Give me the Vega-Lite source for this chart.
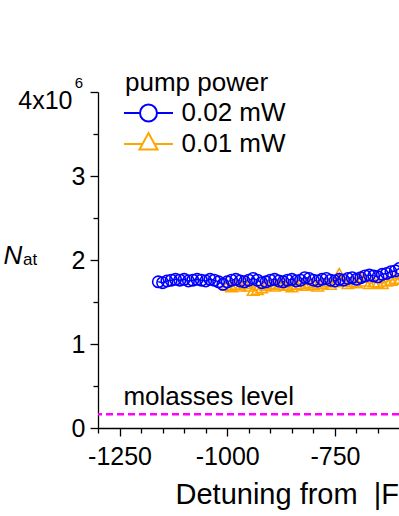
{
  "$schema": "https://vega.github.io/schema/vega-lite/v6.json",
  "autosize": {"type": "none"},
  "padding": {"left": 98, "top": 92, "right": 0, "bottom": 88},
  "width": 301,
  "height": 336,
  "config": {
    "view": {"stroke": null},
    "font": "Liberation Sans",
    "axis": {
      "grid": false,
      "domainColor": "#000",
      "tickColor": "#000",
      "domainWidth": 1.3,
      "tickWidth": 1.3,
      "labelColor": "#000",
      "titleColor": "#000",
      "labelFontSize": 25,
      "labelFont": "Liberation Sans",
      "titleFont": "Liberation Sans",
      "titleFontWeight": "normal",
      "labelOverlap": false
    },
    "legend": {
      "orient": "none",
      "legendX": 27,
      "legendY": -22,
      "titleFontSize": 26,
      "titleFontWeight": "normal",
      "titleColor": "#000",
      "titleFont": "Liberation Sans",
      "titlePadding": 4,
      "labelFontSize": 26,
      "labelColor": "#000",
      "labelFont": "Liberation Sans",
      "labelOffset": 20,
      "symbolOffset": 10.5,
      "symbolSize": 289,
      "symbolStrokeWidth": 2,
      "symbolOpacity": 1,
      "rowPadding": 3,
      "padding": 0
    }
  },
  "resolve": {
    "axis": {"x": "independent", "y": "independent"},
    "scale": {"shape": "independent"},
    "legend": {"color": "independent", "shape": "independent"}
  },
  "datasets": {
    "pts": [
      {"series": "0.01 mW", "detuning": -1000, "N": 1.70},
      {"series": "0.01 mW", "detuning": -990, "N": 1.68},
      {"series": "0.01 mW", "detuning": -980, "N": 1.71},
      {"series": "0.01 mW", "detuning": -970, "N": 1.69},
      {"series": "0.01 mW", "detuning": -960, "N": 1.72},
      {"series": "0.01 mW", "detuning": -950, "N": 1.69},
      {"series": "0.01 mW", "detuning": -940, "N": 1.64},
      {"series": "0.01 mW", "detuning": -930, "N": 1.65},
      {"series": "0.01 mW", "detuning": -920, "N": 1.67},
      {"series": "0.01 mW", "detuning": -910, "N": 1.70},
      {"series": "0.01 mW", "detuning": -900, "N": 1.72},
      {"series": "0.01 mW", "detuning": -890, "N": 1.69},
      {"series": "0.01 mW", "detuning": -880, "N": 1.71},
      {"series": "0.01 mW", "detuning": -870, "N": 1.73},
      {"series": "0.01 mW", "detuning": -860, "N": 1.70},
      {"series": "0.01 mW", "detuning": -850, "N": 1.68},
      {"series": "0.01 mW", "detuning": -840, "N": 1.71},
      {"series": "0.01 mW", "detuning": -830, "N": 1.72},
      {"series": "0.01 mW", "detuning": -820, "N": 1.70},
      {"series": "0.01 mW", "detuning": -810, "N": 1.73},
      {"series": "0.01 mW", "detuning": -800, "N": 1.71},
      {"series": "0.01 mW", "detuning": -790, "N": 1.69},
      {"series": "0.01 mW", "detuning": -780, "N": 1.72},
      {"series": "0.01 mW", "detuning": -770, "N": 1.74},
      {"series": "0.01 mW", "detuning": -760, "N": 1.71},
      {"series": "0.01 mW", "detuning": -750, "N": 1.74},
      {"series": "0.01 mW", "detuning": -740, "N": 1.84},
      {"series": "0.01 mW", "detuning": -730, "N": 1.76},
      {"series": "0.01 mW", "detuning": -720, "N": 1.72},
      {"series": "0.01 mW", "detuning": -710, "N": 1.74},
      {"series": "0.01 mW", "detuning": -700, "N": 1.73},
      {"series": "0.01 mW", "detuning": -690, "N": 1.80},
      {"series": "0.01 mW", "detuning": -680, "N": 1.75},
      {"series": "0.01 mW", "detuning": -670, "N": 1.72},
      {"series": "0.01 mW", "detuning": -660, "N": 1.74},
      {"series": "0.01 mW", "detuning": -650, "N": 1.73},
      {"series": "0.01 mW", "detuning": -640, "N": 1.72},
      {"series": "0.01 mW", "detuning": -630, "N": 1.75},
      {"series": "0.01 mW", "detuning": -620, "N": 1.76},
      {"series": "0.01 mW", "detuning": -610, "N": 1.78},
      {"series": "0.01 mW", "detuning": -600, "N": 1.77},
      {"series": "0.02 mW", "detuning": -1160, "N": 1.74},
      {"series": "0.02 mW", "detuning": -1150, "N": 1.73},
      {"series": "0.02 mW", "detuning": -1140, "N": 1.75},
      {"series": "0.02 mW", "detuning": -1130, "N": 1.76},
      {"series": "0.02 mW", "detuning": -1120, "N": 1.77},
      {"series": "0.02 mW", "detuning": -1110, "N": 1.76},
      {"series": "0.02 mW", "detuning": -1100, "N": 1.77},
      {"series": "0.02 mW", "detuning": -1090, "N": 1.75},
      {"series": "0.02 mW", "detuning": -1080, "N": 1.76},
      {"series": "0.02 mW", "detuning": -1070, "N": 1.77},
      {"series": "0.02 mW", "detuning": -1060, "N": 1.76},
      {"series": "0.02 mW", "detuning": -1050, "N": 1.75},
      {"series": "0.02 mW", "detuning": -1040, "N": 1.77},
      {"series": "0.02 mW", "detuning": -1030, "N": 1.76},
      {"series": "0.02 mW", "detuning": -1020, "N": 1.74},
      {"series": "0.02 mW", "detuning": -1010, "N": 1.71},
      {"series": "0.02 mW", "detuning": -1000, "N": 1.74},
      {"series": "0.02 mW", "detuning": -990, "N": 1.76},
      {"series": "0.02 mW", "detuning": -980, "N": 1.77},
      {"series": "0.02 mW", "detuning": -970, "N": 1.75},
      {"series": "0.02 mW", "detuning": -960, "N": 1.74},
      {"series": "0.02 mW", "detuning": -950, "N": 1.76},
      {"series": "0.02 mW", "detuning": -940, "N": 1.78},
      {"series": "0.02 mW", "detuning": -930, "N": 1.76},
      {"series": "0.02 mW", "detuning": -920, "N": 1.73},
      {"series": "0.02 mW", "detuning": -910, "N": 1.74},
      {"series": "0.02 mW", "detuning": -900, "N": 1.76},
      {"series": "0.02 mW", "detuning": -890, "N": 1.77},
      {"series": "0.02 mW", "detuning": -880, "N": 1.75},
      {"series": "0.02 mW", "detuning": -870, "N": 1.74},
      {"series": "0.02 mW", "detuning": -860, "N": 1.76},
      {"series": "0.02 mW", "detuning": -850, "N": 1.77},
      {"series": "0.02 mW", "detuning": -840, "N": 1.75},
      {"series": "0.02 mW", "detuning": -830, "N": 1.76},
      {"series": "0.02 mW", "detuning": -820, "N": 1.79},
      {"series": "0.02 mW", "detuning": -810, "N": 1.78},
      {"series": "0.02 mW", "detuning": -800, "N": 1.76},
      {"series": "0.02 mW", "detuning": -790, "N": 1.75},
      {"series": "0.02 mW", "detuning": -780, "N": 1.77},
      {"series": "0.02 mW", "detuning": -770, "N": 1.78},
      {"series": "0.02 mW", "detuning": -760, "N": 1.76},
      {"series": "0.02 mW", "detuning": -750, "N": 1.75},
      {"series": "0.02 mW", "detuning": -740, "N": 1.77},
      {"series": "0.02 mW", "detuning": -730, "N": 1.76},
      {"series": "0.02 mW", "detuning": -720, "N": 1.78},
      {"series": "0.02 mW", "detuning": -710, "N": 1.79},
      {"series": "0.02 mW", "detuning": -700, "N": 1.77},
      {"series": "0.02 mW", "detuning": -690, "N": 1.79},
      {"series": "0.02 mW", "detuning": -680, "N": 1.81},
      {"series": "0.02 mW", "detuning": -670, "N": 1.82},
      {"series": "0.02 mW", "detuning": -660, "N": 1.81},
      {"series": "0.02 mW", "detuning": -650, "N": 1.80},
      {"series": "0.02 mW", "detuning": -640, "N": 1.83},
      {"series": "0.02 mW", "detuning": -630, "N": 1.84},
      {"series": "0.02 mW", "detuning": -620, "N": 1.86},
      {"series": "0.02 mW", "detuning": -610, "N": 1.87},
      {"series": "0.02 mW", "detuning": -600, "N": 1.90}
    ]
  },
  "layer": [
    {
      "data": {"name": "pts"},
      "mark": {"type": "line", "strokeWidth": 1.5},
      "encoding": {
        "x": {
          "field": "detuning", "type": "quantitative",
          "scale": {"domain": [-1300, -601.3], "nice": false, "zero": false},
          "axis": {
            "orient": "bottom",
            "values": [-1250, -1000, -750],
            "labelExpr": "'' + datum.value",
            "tickSize": 8,
            "labelPadding": 8,
            "labelFlush": false,
            "title": "Detuning from\u00a0 |F = 2\u3009 \u2192 |F\u2032 = 3\u3009 (MHz)",
            "titleFontSize": 29,
            "titleAlign": "left",
            "titleAnchor": "start",
            "titleBaseline": "alphabetic",
            "titleX": 77,
            "titleY": 75
          }
        },
        "y": {
          "field": "N", "type": "quantitative",
          "scale": {"domain": [0, 4], "nice": false, "zero": true},
          "axis": {
            "orient": "left",
            "values": [0, 1, 2, 3, 4],
            "labelExpr": "datum.value === 4 ? '4x10' : '' + datum.value",
            "labelOffset": {"condition": {"test": "datum.value === 4", "value": 8}, "value": 0},
            "labelPadding": {"condition": {"test": "datum.value === 4", "value": 18}, "value": 5},
            "tickSize": 8,
            "labelFlush": false,
            "title": "N",
            "titleFontStyle": "italic",
            "titleFontSize": 26,
            "titleAngle": 0,
            "titleAlign": "left",
            "titleBaseline": "alphabetic",
            "titleX": -95,
            "titleY": 171
          }
        },
        "color": {
          "field": "series", "type": "nominal",
          "scale": {"domain": ["0.02 mW", "0.01 mW"], "range": ["#0000ff", "#ffa500"]},
          "legend": null
        }
      }
    },
    {
      "data": {"name": "pts"},
      "mark": {"type": "point", "filled": false, "strokeWidth": 1.6, "size": 130, "opacity": 1},
      "encoding": {
        "x": {
          "field": "detuning", "type": "quantitative",
          "axis": {
            "orient": "bottom",
            "values": [-1300, -1200, -1150, -1100, -1050, -950, -900, -850, -800, -700, -650],
            "labels": false,
            "domain": false,
            "tickSize": 5,
            "title": null
          }
        },
        "y": {
          "field": "N", "type": "quantitative",
          "axis": {
            "orient": "left",
            "values": [0.5, 1.5, 2.5, 3.5],
            "labels": false,
            "domain": false,
            "tickSize": 5,
            "title": null
          }
        },
        "color": {"field": "series", "type": "nominal", "legend": null},
        "shape": {
          "field": "series", "type": "nominal",
          "scale": {"domain": ["0.02 mW", "0.01 mW"], "range": ["circle", "triangle-up"]},
          "legend": null
        }
      }
    },
    {
      "data": {"values": []},
      "mark": {"type": "point", "filled": false, "strokeWidth": 2},
      "encoding": {
        "color": {"field": "series", "type": "nominal", "legend": {"title": "pump power"}},
        "shape": {
          "field": "series", "type": "nominal",
          "scale": {
            "domain": ["0.02 mW", "0.01 mW"],
            "range": [
              "M-2.88,0H-1M1,0H2.88M-1,0A1,1 0 1,0 1,0A1,1 0 1,0 -1,0",
              "M-2.88,0H-0.7M0.7,0H2.88M0,-1.29L1.06,0.66L-1.06,0.66Z"
            ]
          },
          "legend": {"title": "pump power"}
        }
      }
    },
    {
      "data": {"values": [{}]},
      "mark": {"type": "rule", "color": "#ff00ff", "strokeWidth": 2.5, "strokeDash": [7, 4]},
      "encoding": {"y": {"datum": 0.163, "axis": null}}
    },
    {
      "data": {"values": [{}]},
      "mark": {"type": "text", "text": "molasses level", "fontSize": 26, "align": "left", "baseline": "alphabetic", "color": "#000", "font": "Liberation Sans"},
      "encoding": {"x": {"datum": -1241, "axis": null}, "y": {"datum": 0.27, "axis": null}}
    },
    {
      "data": {"values": [{}]},
      "mark": {"type": "text", "text": "at", "fontSize": 17, "align": "left", "baseline": "alphabetic", "color": "#000", "font": "Liberation Sans"},
      "encoding": {"x": {"datum": -1474, "axis": null}, "y": {"datum": 1.94, "axis": null}}
    },
    {
      "data": {"values": [{}]},
      "mark": {"type": "text", "text": "6", "fontSize": 15, "align": "left", "baseline": "alphabetic", "color": "#000", "font": "Liberation Sans"},
      "encoding": {"x": {"datum": -1354, "axis": null}, "y": {"datum": 4.043, "axis": null}}
    }
  ]
}
